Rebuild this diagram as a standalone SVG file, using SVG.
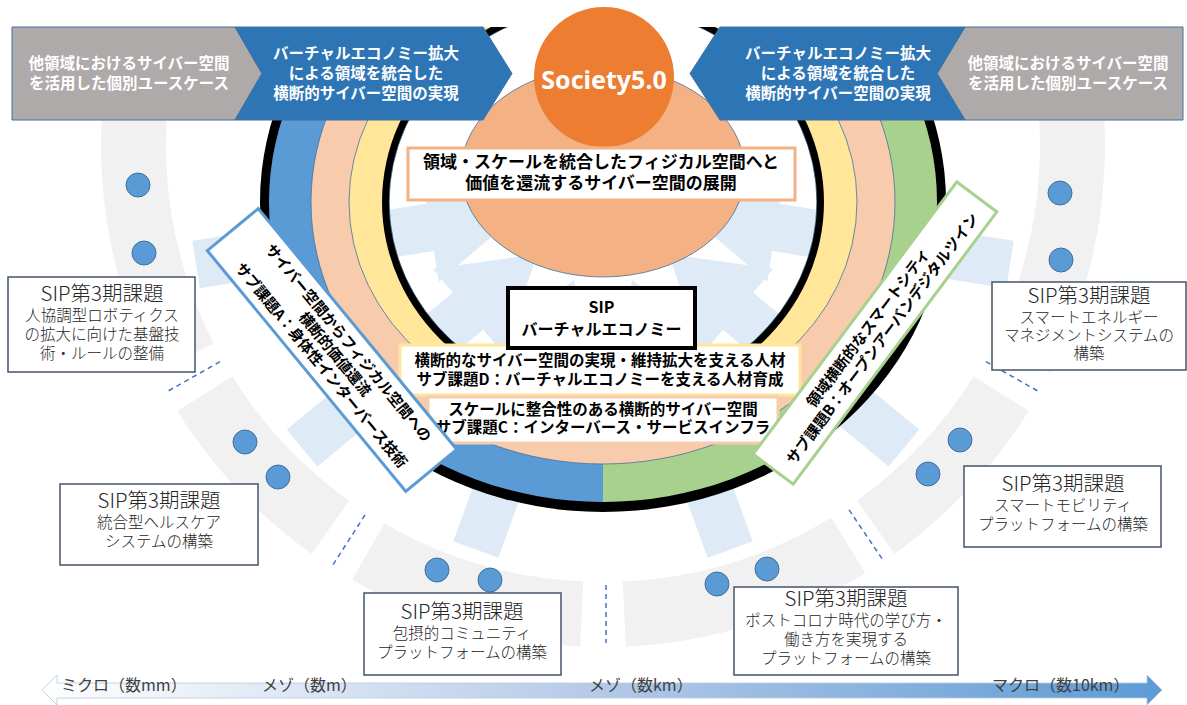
<svg xmlns="http://www.w3.org/2000/svg" width="1187" height="705" viewBox="0 0 1187 705">
<defs>
<style>
text{font-family:"Noto Sans CJK JP","Noto Sans",sans-serif;}
.b{font-weight:bold}
.c{text-anchor:middle}
.band{fill:#f1f1f1}
.dot{fill:#5b9bd5;stroke:#41719c;stroke-width:1}
.dash{fill:none;stroke:#4472c4;stroke-width:1.5;stroke-dasharray:5 4}
.arr{fill:#deebf7}
.sip{fill:#fff;stroke:#44546a;stroke-width:1.5}
.st{fill:#262626;font-weight:300}
.ring{fill-rule:evenodd}
.wt{fill:#fff}
</style>
<clipPath id="cl"><rect x="0" y="27" width="603" height="678"/></clipPath>
<clipPath id="cr"><rect x="603" y="27" width="584" height="678"/></clipPath>
<clipPath id="ctop"><rect x="0" y="27" width="1187" height="678"/></clipPath>
<linearGradient id="ax" x1="0" x2="1"><stop offset="0" stop-color="#ffffff"/><stop offset="0.5" stop-color="#b4c9e8"/><stop offset="1" stop-color="#5b9bd5"/></linearGradient>
<polygon id="arrowA" points="85,0 175,-55 175,-24 412,-24 412,24 175,24 175,55"/>
<polygon id="arrowB" points="85,0 175,-55 175,-24 390,-24 390,24 175,24 175,55"/>
<polygon id="arrowC" points="85,0 175,-55 175,-24 372,-24 372,24 175,24 175,55"/>
</defs>

<g id="outer-bands" clip-path="url(#ctop)">
<path class="band" d="M155.7,372.9 A502,502 0 0 1 131.3,-26.7 L192.4,-4.5 A437,437 0 0 0 213.6,343.4 Z"/>
<path class="band" d="M311.5,553.7 A502,502 0 0 1 177.3,411 L232.4,376.6 A437,437 0 0 0 349.2,500.8 Z"/>
<path class="band" d="M580.2,646.5 A502,502 0 0 1 352,579.7 L384.5,523.4 A437,437 0 0 0 583.2,581.5 Z"/>
<path class="band" d="M865.3,573 A502,502 0 0 1 625.8,646.5 L622.8,581.5 A437,437 0 0 0 831.3,517.6 Z"/>
<path class="band" d="M1028.7,411 A502,502 0 0 1 894.5,553.7 L856.8,500.8 A437,437 0 0 0 973.6,376.6 Z"/>
<path class="band" d="M1074.7,-26.7 A502,502 0 0 1 1050.3,372.9 L992.4,343.4 A437,437 0 0 0 1013.6,-4.5 Z"/>
</g>

<g id="dividers">
<line class="dash" x1="986" y1="361.7" x2="1038.2" y2="391.2"/>
<line class="dash" x1="849" y1="509.8" x2="882.6" y2="559.5"/>
<line class="dash" x1="606" y1="585" x2="606" y2="643"/>
<line class="dash" x1="365" y1="515" x2="332.5" y2="565.5"/>
<line class="dash" x1="220" y1="361.7" x2="167.8" y2="391.2"/>
</g>

<g id="dots">
<circle class="dot" cx="138" cy="185" r="12"/>
<circle class="dot" cx="144" cy="253" r="12"/>
<circle class="dot" cx="1060" cy="193" r="12"/>
<circle class="dot" cx="1061" cy="260" r="12"/>
<circle class="dot" cx="245" cy="442" r="12"/>
<circle class="dot" cx="278" cy="477" r="12"/>
<circle class="dot" cx="437" cy="570" r="12"/>
<circle class="dot" cx="490" cy="580" r="12"/>
<circle class="dot" cx="717" cy="584" r="12"/>
<circle class="dot" cx="767" cy="569" r="12"/>
<circle class="dot" cx="928" cy="474" r="12"/>
<circle class="dot" cx="960" cy="440" r="12"/>
</g>

<g id="flows" clip-path="url(#ctop)">
<use href="#arrowA" class="arr" transform="translate(603,200) rotate(9)"/>
<use href="#arrowB" class="arr" transform="translate(603,200) rotate(39.5)"/>
<use href="#arrowC" class="arr" transform="translate(603,200) rotate(70)"/>
<use href="#arrowC" class="arr" transform="translate(603,200) rotate(110)"/>
<use href="#arrowB" class="arr" transform="translate(603,200) rotate(140.5)"/>
<use href="#arrowA" class="arr" transform="translate(603,200) rotate(171)"/>
</g>

<g id="rings" clip-path="url(#ctop)">
<path class="ring" fill="#000" d="M260,202 A343,310 0 1 0 946,202 A343,310 0 1 0 260,202 Z M389,202 A214,196 0 1 0 817,202 A214,196 0 1 0 389,202 Z"/>
<path class="ring" fill="#5b9bd5" clip-path="url(#cl)" d="M269,202 A334,300 0 1 0 937,202 A334,300 0 1 0 269,202 Z M389,202 A214,196 0 1 0 817,202 A214,196 0 1 0 389,202 Z"/>
<path class="ring" fill="#a9d18e" clip-path="url(#cr)" d="M269,202 A334,300 0 1 0 937,202 A334,300 0 1 0 269,202 Z M389,202 A214,196 0 1 0 817,202 A214,196 0 1 0 389,202 Z"/>
<path class="ring" fill="#f8cbad" stroke="#41719c" stroke-width="0.8" d="M311,202 A292,262 0 1 0 895,202 A292,262 0 1 0 311,202 Z M389,202 A214,196 0 1 0 817,202 A214,196 0 1 0 389,202 Z"/>
<path class="ring" fill="#ffe699" stroke="#41719c" stroke-width="0.8" d="M349,202 A254,218 0 1 0 857,202 A254,218 0 1 0 349,202 Z M389,202 A214,196 0 1 0 817,202 A214,196 0 1 0 389,202 Z"/>
<path class="ring" fill="#000" d="M382,202 A221,203 0 1 0 824,202 A221,203 0 1 0 382,202 Z M389,202 A214,196 0 1 0 817,202 A214,196 0 1 0 389,202 Z"/>
</g>

<g id="society-field">
<ellipse cx="603" cy="172" rx="142" ry="105" fill="#f4b183" stroke="#41719c" stroke-width="0.8"/>
</g>

<g id="society50">
<circle cx="604" cy="77" r="70" fill="#ed7d31"/>
<text x="604" y="89" class="b c wt" font-size="25" style="font-family:'Noto Sans','Liberation Sans',sans-serif">Society5.0</text>
</g>

<g id="banner-left">
<polygon points="12,27 235,27 262,73.5 235,120 12,120" fill="#aeaaaa" stroke="#41719c" stroke-width="1"/>
<polygon points="235,27 483,27 512,73.5 483,120 235,120 262,73.5" fill="#2e75b6" stroke="#41719c" stroke-width="1"/>
<text class="b c wt" font-size="15.5"><tspan x="129" y="69">他領域におけるサイバー空間</tspan><tspan x="129" y="89">を活用した個別ユースケース</tspan></text>
<text class="b c wt" font-size="15.5"><tspan x="366" y="59">バーチャルエコノミー拡大</tspan><tspan x="366" y="79">による領域を統合した</tspan><tspan x="366" y="99">横断的サイバー空間の実現</tspan></text>
</g>

<g id="banner-right">
<polygon points="965,27 1183,27 1183,120 965,120 937,73.5" fill="#aeaaaa" stroke="#41719c" stroke-width="1"/>
<polygon points="690,73.5 720,27 965,27 937,73.5 965,120 720,120" fill="#2e75b6" stroke="#41719c" stroke-width="1"/>
<text class="b c wt" font-size="15.5"><tspan x="1068" y="69">他領域におけるサイバー空間</tspan><tspan x="1068" y="89">を活用した個別ユースケース</tspan></text>
<text class="b c wt" font-size="15.5"><tspan x="838" y="59">バーチャルエコノミー拡大</tspan><tspan x="838" y="79">による領域を統合した</tspan><tspan x="838" y="99">横断的サイバー空間の実現</tspan></text>
</g>

<g id="physical-space">
<rect x="408" y="148" width="387" height="52" fill="#fff" stroke="#f4b183" stroke-width="3"/>
<text class="b c" font-size="17" fill="#000"><tspan x="601" y="168">領域・スケールを統合したフィジカル空間へと</tspan><tspan x="601" y="189">価値を還流するサイバー空間の展開</tspan></text>
</g>

<g id="subD">
<rect x="400" y="345" width="400" height="50" fill="#fff" stroke="#ffe699" stroke-width="3"/>
<text class="b c" font-size="15.5" fill="#000"><tspan x="600" y="366">横断的なサイバー空間の実現・維持拡大を支える人材</tspan><tspan x="600" y="385">サブ課題D：バーチャルエコノミーを支える人材育成</tspan></text>
</g>

<g id="subC">
<rect x="428" y="397" width="350" height="46" fill="#fff" stroke="#f8cbad" stroke-width="3"/>
<text class="b c" font-size="15.5" fill="#000"><tspan x="603" y="415">スケールに整合性のある横断的サイバー空間</tspan><tspan x="603" y="433">サブ課題C：インターバース・サービスインフラ</tspan></text>
</g>

<g id="sip-ve">
<rect x="508" y="288" width="187" height="60" fill="#fff" stroke="#000" stroke-width="4"/>
<text class="b c" font-size="16" fill="#000"><tspan x="601.5" y="313">SIP</tspan><tspan x="601.5" y="335">バーチャルエコノミー</tspan></text>
</g>

<g id="subA" transform="translate(332,350) rotate(50.5)">
<rect x="-156" y="-33" width="312" height="66" fill="#fff" stroke="#5b9bd5" stroke-width="3"/>
<text class="b c" font-size="14.8" fill="#000"><tspan x="5" y="-12">サイバー空間からフィジカル空間への</tspan><tspan x="5" y="5.6">横断的価値還流</tspan><tspan x="5" y="23.2">サブ課題A：身体性インターバース技術</tspan></text>
</g>

<g id="subB" transform="translate(875,333) rotate(-53.2)">
<rect x="-170" y="-25" width="340" height="50" fill="#fff" stroke="#a9d18e" stroke-width="3"/>
<text class="b c" font-size="15" fill="#000"><tspan x="0" y="-3.3">領域横断的なスマートシティ</tspan><tspan x="0" y="14.7">サブ課題B：オープンアーバンデジタルツイン</tspan></text>
</g>

<g id="sip-robotics">
<rect class="sip" x="8" y="277" width="187" height="95"/>
<text class="c st"><tspan x="102" y="301" font-size="20.5">SIP第3期課題</tspan><tspan x="102" y="321" font-size="15.5">人協調型ロボティクス</tspan><tspan x="102" y="340" font-size="15.5">の拡大に向けた基盤技</tspan><tspan x="102" y="359" font-size="15.5">術・ルールの整備</tspan></text>
</g>

<g id="sip-energy">
<rect class="sip" x="992" y="282" width="194" height="88"/>
<text class="c st"><tspan x="1089" y="303" font-size="20.5">SIP第3期課題</tspan><tspan x="1089" y="323" font-size="15.5">スマートエネルギー</tspan><tspan x="1089" y="341" font-size="15.5">マネジメントシステムの</tspan><tspan x="1089" y="359" font-size="15.5">構築</tspan></text>
</g>

<g id="sip-health">
<rect class="sip" x="60" y="484" width="198" height="81"/>
<text class="c st"><tspan x="159" y="508" font-size="20.5">SIP第3期課題</tspan><tspan x="159" y="528" font-size="15.5">統合型ヘルスケア</tspan><tspan x="159" y="547" font-size="15.5">システムの構築</tspan></text>
</g>

<g id="sip-mobility">
<rect class="sip" x="964" y="466" width="197" height="81"/>
<text class="c st"><tspan x="1063" y="491" font-size="20.5">SIP第3期課題</tspan><tspan x="1063" y="511" font-size="15.5">スマートモビリティ</tspan><tspan x="1063" y="530" font-size="15.5">プラットフォームの構築</tspan></text>
</g>

<g id="sip-community">
<rect class="sip" x="364" y="593" width="197" height="82"/>
<text class="c st"><tspan x="462" y="619" font-size="20.5">SIP第3期課題</tspan><tspan x="462" y="639" font-size="15.5">包摂的コミュニティ</tspan><tspan x="462" y="658" font-size="15.5">プラットフォームの構築</tspan></text>
</g>

<g id="sip-postcorona">
<rect class="sip" x="734" y="587" width="224" height="88"/>
<text class="c st"><tspan x="846" y="606" font-size="20.5">SIP第3期課題</tspan><tspan x="846" y="626" font-size="15.5">ポストコロナ時代の学び方・</tspan><tspan x="846" y="645" font-size="15.5">働き方を実現する</tspan><tspan x="846" y="664" font-size="15.5">プラットフォームの構築</tspan></text>
</g>

<g id="scale-axis">
<polygon points="42,690 57,675 57,683 1147,683 1147,675 1162,690 1147,705 1147,698 57,698 57,705" fill="url(#ax)" stroke="#b9c9dc" stroke-width="0.8"/>
<text font-size="16" fill="#404040"><tspan x="61" y="691">ミクロ（数mm）</tspan></text>
<text font-size="16" fill="#404040"><tspan x="262" y="691">メゾ（数m）</tspan></text>
<text font-size="16" fill="#404040"><tspan x="589" y="691">メゾ（数km）</tspan></text>
<text font-size="16" fill="#404040"><tspan x="992" y="691">マクロ（数10km）</tspan></text>
</g>
</svg>
